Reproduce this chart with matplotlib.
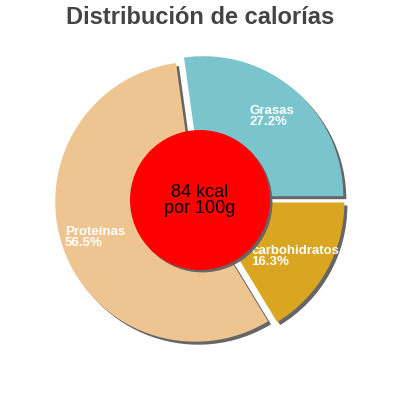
import matplotlib
matplotlib.use("Agg")
import matplotlib.pyplot as plt
from matplotlib.patches import Circle

labels = ["Grasas", "Proteínas", "carbohidratos"]
values = [27.2, 56.5, 16.3]
colors = ["#7AC5CD", "#EEC591", "#DAA520"]
center_text = "84 kcal\npor 100g"
title = "Distribución de calorías"

plt.rcParams['font.family'] = ['Liberation Sans', 'DejaVu Sans']

fig = plt.figure(figsize=(4, 4), dpi=100)
ax = fig.add_axes([0, 0, 1, 1])
R = 140.0
lim = 200.0 / R

explode = [0.036] * len(values)
sh = 3.0 / R
ax.pie(values, explode=explode, colors=["#666666"] * len(values), startangle=0,
       counterclock=True, radius=1.0, center=(sh, -sh), frame=True,
       wedgeprops=dict(linewidth=0))
ax.pie(values, explode=explode, colors=colors, startangle=0,
       counterclock=True, radius=1.0, center=(0, 0), frame=True,
       wedgeprops=dict(linewidth=0))
ax.set_xlim(-lim, lim)
ax.set_ylim(-lim, lim)
ax.set_aspect('equal')
ax.axis('off')

# slice labels
def px(x, y):
    return ((x - 200) / R, (200 - y) / R)

label_pos = [px(249, 105), px(65, 226), px(251, 245)]
for lab, v, (x, y) in zip(labels, values, label_pos):
    ax.text(x, y, f"{lab}\n{v}%", color="white", fontsize=9.5, fontweight='bold',
            ha='left', va='top', linespacing=0.85)

# center circle with shadow
ax.add_patch(Circle((sh * 0.8, -sh * 0.8), 0.5, color="#666666", lw=0, zorder=5))
ax.add_patch(Circle((0, 0), 0.5, color="#FF0000", lw=0, zorder=6))
ax.text(0, -0.005, center_text, ha='center', va='center', fontsize=13,
        color='black', zorder=7, linespacing=0.95)

fig.text(0.5, 1 - 18 / 400, title, ha='center', va='center', fontsize=17,
         fontweight='bold', color='#444444')

fig.savefig("out.png", dpi=100)
